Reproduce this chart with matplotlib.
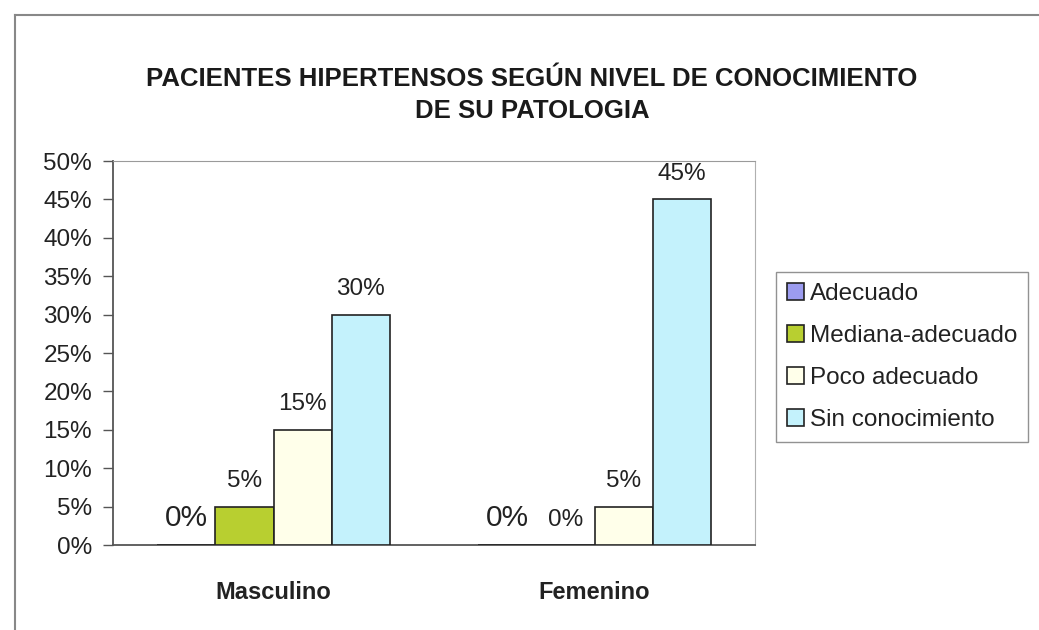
import matplotlib
matplotlib.use("Agg")
import matplotlib.pyplot as plt
from matplotlib.lines import Line2D
import numpy as np

plt.rcParams['font.family'] = ['Liberation Sans', 'DejaVu Sans']

categories = ["Masculino", "Femenino"]
series_names = ["Adecuado", "Mediana-adecuado", "Poco adecuado", "Sin conocimiento"]
adecuado = [0, 0]
mediana_adecuado = [5, 0]
poco_adecuado = [15, 5]
sin_conocimiento = [30, 45]
series_values = [adecuado, mediana_adecuado, poco_adecuado, sin_conocimiento]
colors = ["#9C9CF0", "#B8CF30", "#FFFFEA", "#C4F2FC"]
yticks = [0, 5, 10, 15, 20, 25, 30, 35, 40, 45, 50]
ytick_labels = [f"{v}%" for v in yticks]

W, H = 1039, 630
fig = plt.figure(figsize=(W / 100, H / 100), dpi=100)
fig.patch.set_facecolor("white")

ax = fig.add_axes([113 / W, 1 - 545 / H, (755 - 113) / W, (545 - 161) / H])

x = np.arange(len(categories))
w = 0.181
for k, (name, vals, col) in enumerate(zip(series_names, series_values, colors)):
    pos = x + (k - 1.5) * w
    ax.bar(pos, vals, width=w, color=col, edgecolor="#222222",
           linewidth=1.2, label=name, zorder=3)
    for xi, v in zip(pos, vals):
        big = (k == 0)
        ax.annotate(f"{v}%", (xi, v), xytext=(0, 14), textcoords="offset points",
                    ha="center", va="baseline",
                    fontsize=21.5 if big else 17.5, color="#222222")

ax.set_xlim(-0.5, 1.5)
ax.set_ylim(0, 50)
ax.set_yticks(yticks)
ax.set_yticklabels(ytick_labels, fontsize=17.5, color="#222222")
ax.set_xticks(x)
ax.set_xticklabels(categories, fontsize=17, fontweight="bold", color="#222222")
ax.tick_params(axis="x", length=0, pad=26)
ax.tick_params(axis="y", direction="out", length=7, width=1, color="#555555", pad=8)

ax.spines["left"].set_color("#555555")
ax.spines["bottom"].set_color("#555555")
ax.spines["left"].set_linewidth(1.3)
ax.spines["bottom"].set_linewidth(1.3)
ax.spines["top"].set_color("#9a9a9a")
ax.spines["right"].set_color("#b0b0b0")

fig.text(532 / W, 1 - 79 / H, "PACIENTES HIPERTENSOS SEGÚN NIVEL DE CONOCIMIENTO",
         ha="center", va="center", fontsize=18.5, fontweight="bold", color="#1a1a1a")
fig.text(532 / W, 1 - 111 / H, "DE SU PATOLOGIA",
         ha="center", va="center", fontsize=18.5, fontweight="bold", color="#1a1a1a")

leg = ax.legend(loc="upper left", bbox_to_anchor=(776 / W, 1 - 272 / H),
                bbox_transform=fig.transFigure, frameon=True, fancybox=False,
                fontsize=17.5, handlelength=0.7, handleheight=0.7,
                handletextpad=0.25, labelspacing=0.82, borderpad=0.45,
                borderaxespad=0)
leg.get_frame().set_edgecolor("#777777")
leg.get_frame().set_linewidth(1.0)
for t in leg.get_texts():
    t.set_color("#222222")

# outer chart border (partially visible)
fig.add_artist(Line2D([15 / W, 15 / W], [0, 1 - 15 / H], transform=fig.transFigure,
                      color="#888888", linewidth=1.5))
fig.add_artist(Line2D([15 / W, 1], [1 - 15 / H, 1 - 15 / H], transform=fig.transFigure,
                      color="#888888", linewidth=1.5))

fig.savefig("out.png", dpi=100)
